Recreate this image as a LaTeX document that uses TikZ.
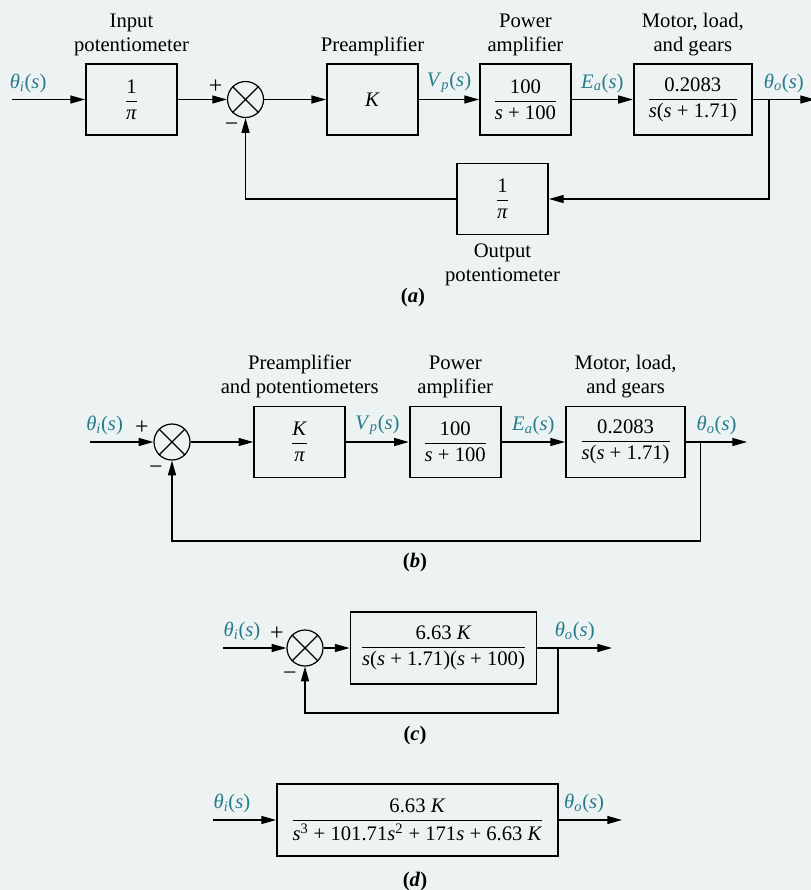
\documentclass[tikz,border=0pt]{standalone}
\usepackage{amsmath}
\usepackage{fontspec}
\setmainfont{Liberation Serif}
\usepackage{xcolor}
\usetikzlibrary{arrows.meta,positioning}
\definecolor{bgcol}{HTML}{EDF2F3}
\definecolor{sigcol}{HTML}{267C8C}
\newcommand{\vs}{\textit{s}}
\newcommand{\sigl}[2]{\textit{#1}\textsubscript{\textit{#2}}(\vs)}
\newcommand{\tf}[2]{$\genfrac{}{}{0.8pt}{0}{\text{#1}}{\text{#2}}$}

\begin{document}
\begin{tikzpicture}[
    x=0.75pt, y=-0.75pt,
    font=\fontsize{15.5}{18}\selectfont,
    block/.style={rectangle, draw, line width=1.4pt, minimum width=68.25pt, minimum height=53.25pt, inner sep=0pt},
    sumnode/.style={circle, draw, line width=0.9pt, minimum size=27pt, inner sep=0pt},
    sig/.style={text=sigcol, above, yshift=1.5pt},
    sgn/.style={inner sep=0pt, font=\fontsize{18}{18}\selectfont},
    ttl/.style={align=center},
    capt/.style={font=\fontsize{15.5}{18}\selectfont\bfseries},
    wire/.style={line width=0.9pt},
    arrow/.style={->, >={Triangle[length=11pt, width=6pt]}, line width=0.9pt}
]
\fill[bgcol] (0,0) rectangle (811,890);
\useasboundingbox (0,0) rectangle (811,890);

% (a) full loop
\node[block] (ip1) at (131.5,99.5) {\tf{1}{\textit{π}}};
\node[sumnode, right=36.75pt of ip1] (s1) {};
\node[block, right=46.5pt of s1] (k1) {\textit{K}};
\node[block, right=45pt of k1] (pa1) {\tf{100}{\vs{} + 100}};
\node[block, right=45.75pt of pa1, minimum width=88.5pt] (mo1) {\tf{0.2083}{\vs(\vs{} + 1.71)}};
\node[block] (fb1) at (502.5,199) {\tf{1}{\textit{π}}};

\node[ttl, above=2pt of ip1] {Input\\potentiometer};
\node[ttl, above=2pt of k1] {Preamplifier};
\node[ttl, above=2pt of pa1] {Power\\amplifier};
\node[ttl, above=2pt of mo1] {Motor, load,\\and gears};
\node[ttl, below=3pt of fb1] {Output\\potentiometer};
\node[capt] (ca) at (413,298) {(\textit{a})};

\coordinate (in1) at (12,99.5);
\coordinate (out1) at (815,99.5);
\coordinate (br1) at (769,99.5);

\draw[wire] (s1.north west) -- (s1.south east) (s1.north east) -- (s1.south west);
\node[sgn] at ([shift={(-30,-13)}]s1.center) {+};
\node[sgn] at ([shift={(-14,28)}]s1.center) {−};

\draw[arrow] (in1) -- node[sig, pos=0.22] {\sigl{θ}{i}} (ip1);
\draw[arrow] (ip1) -- (s1);
\draw[arrow] (s1) -- (k1);
\draw[arrow] (k1) -- node[sig] {\sigl{V}{p}} (pa1);
\draw[arrow] (pa1) -- node[sig] {\sigl{E}{a}} (mo1);
\draw[arrow] (mo1) -- node[sig] {\sigl{θ}{o}} (out1);
\draw[arrow] (br1) |- (fb1);
\draw[arrow] (fb1) -| (s1);

% (b) potentiometers merged
\node[sumnode] (s2) at (172,442) {};
\node[block, right=47pt of s2] (k2) {\tf{\textit{K}}{\textit{π}}};
\node[block, right=47pt of k2] (pa2) {\tf{100}{\vs{} + 100}};
\node[block, right=47.5pt of pa2, minimum width=89.5pt] (mo2) {\tf{0.2083}{\vs(\vs{} + 1.71)}};

\node[ttl, above=2pt of k2] {Preamplifier\\and potentiometers};
\node[ttl, above=2pt of pa2] {Power\\amplifier};
\node[ttl, above=2pt of mo2] {Motor, load,\\and gears};
\node[capt] (cb) at (415,563) {(\textit{b})};

\coordinate (in2) at (90,442);
\coordinate (out2) at (747,442);
\coordinate (br2) at (700.5,442);
\coordinate (lo2) at (172,541);

\draw[wire] (s2.north west) -- (s2.south east) (s2.north east) -- (s2.south west);
\node[sgn] at ([shift={(-30,-14)}]s2.center) {+};
\node[sgn] at ([shift={(-16,28)}]s2.center) {−};

\draw[arrow] (in2) -- node[sig, pos=0.23] {\sigl{θ}{i}} (s2);
\draw[arrow] (s2) -- (k2);
\draw[arrow] (k2) -- node[sig] {\sigl{V}{p}} (pa2);
\draw[arrow] (pa2) -- node[sig] {\sigl{E}{a}} (mo2);
\draw[arrow] (mo2) -- node[sig] {\sigl{θ}{o}} (out2);
\draw[arrow] (br2) |- (lo2) -- (s2);

% (c) forward path combined
\node[sumnode] (s3) at (305,648) {};
\node[block, right=19.5pt of s3, minimum width=139.5pt, minimum height=54pt] (g3) {\tf{6.63 \textit{K}}{\vs(\vs{} + 1.71)(\vs{} + 100)}};
\node[capt] (cc) at (415,736) {(\textit{c})};

\coordinate (in3) at (223,648);
\coordinate (out3) at (612,648);
\coordinate (br3) at (558,648);
\coordinate (lo3) at (305,713);

\draw[wire] (s3.north west) -- (s3.south east) (s3.north east) -- (s3.south west);
\node[sgn] at ([shift={(-28,-14)}]s3.center) {+};
\node[sgn] at ([shift={(-15,28)}]s3.center) {−};

\draw[arrow] (in3) -- node[sig, pos=0.3] {\sigl{θ}{i}} (s3);
\draw[arrow] (s3) -- (g3);
\draw[arrow] (g3) -- node[sig] {\sigl{θ}{o}} (out3);
\draw[arrow] (br3) |- (lo3) -- (s3);

% (d) closed loop
\node[block, minimum width=210.75pt, minimum height=54pt] (g4) at (417.5,820) {\tf{6.63 \textit{K}}{\vs\textsuperscript{3} + 101.71\vs\textsuperscript{2} + 171\vs{} + 6.63 \textit{K}}};
\node[capt] (cd) at (415,882) {(\textit{d})};

\coordinate (in4) at (213,820);
\coordinate (out4) at (622,820);

\draw[arrow] (in4) -- node[sig, pos=0.3] {\sigl{θ}{i}} (g4);
\draw[arrow] (g4) -- node[sig, pos=0.4] {\sigl{θ}{o}} (out4);
\end{tikzpicture}
\end{document}
